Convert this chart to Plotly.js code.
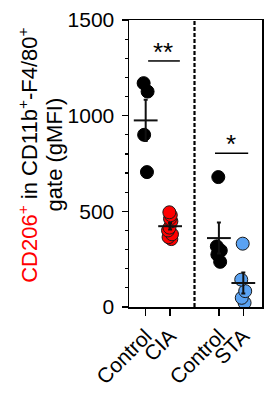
<!DOCTYPE html>
<html>
<head>
<meta charset="utf-8">
<script src="https://cdn.plot.ly/plotly-3.0.1.min.js"></script>
<style>html,body{margin:0;padding:0;background:#fff;}#chart{width:270px;height:394px;}</style>
</head>
<body>
<div id="chart"></div>
<script>
// Categories (x positions 0,1 | 3,4 ; dashed divider at 2)
const categories = ["Control", "CIA", "Control", "STA"];
const categoryPos = [0, 1, 3, 4];

// Series values (gMFI)
const ciaControl = [1170, 1126, 900, 705];
const cia = [495, 480, 462, 448, 415, 400, 380, 365, 355];
const staControl = [679, 317, 295, 274, 236];
const sta = [331, 143, 83, 48, 22];

const yTickVals = [0, 500, 1000, 1500];
const yTickText = ["0", "500", "1000", "1500"];

const groups = [ciaControl, cia, staControl, sta];
const fills = ["#000000", "#ff0000", "#000000", "#5aa2f2"];
const outlines = ["#000000", "#1a1a1a", "#000000", "#1a1a1a"];

function mean(a){ return a.reduce((s,v)=>s+v,0)/a.length; }
function sem(a){ const m=mean(a); const v=a.reduce((s,x)=>s+(x-m)*(x-m),0)/(a.length-1); return Math.sqrt(v/a.length); }

const FONT = "Arial, 'Liberation Sans', Helvetica, sans-serif";
const traces = [];
groups.forEach((g, i) => {
  traces.push({
    type: "box",
    y: g,
    x: g.map(() => categoryPos[i]),
    boxpoints: "all",
    jitter: 0.4,
    pointpos: 0,
    width: 0.5,
    line: {width: 0, color: "rgba(0,0,0,0)"},
    fillcolor: "rgba(0,0,0,0)",
    whiskerwidth: 0,
    marker: {size: 13, color: fills[i], line: {color: outlines[i], width: 1}},
    hoverinfo: "y",
    showlegend: false
  });
});
// mean ± SEM
traces.push({
  type: "scatter",
  mode: "markers",
  x: categoryPos,
  y: groups.map(mean),
  marker: {symbol: "line-ew", size: 17, line: {color: "#111", width: 2}},
  error_y: {type: "data", array: groups.map(sem), visible: true, color: "#111", thickness: 2, width: 2},
  cliponaxis: false,
  showlegend: false,
  hoverinfo: "y"
});

const layout = {
  width: 270, height: 394,
  margin: {l: 129, r: 8, t: 20, b: 86.5},
  paper_bgcolor: "#fff", plot_bgcolor: "#fff",
  font: {family: FONT, color: "#000"},
  showlegend: false,
  xaxis: {
    type: "linear",
    range: [-0.684, 4.766],
    tickvals: categoryPos,
    ticktext: categories,
    tickangle: -45,
    ticks: "outside", ticklen: 7, tickwidth: 1.5, tickcolor: "#000",
    tickfont: {size: 21, family: FONT, color: "#000"},
    showgrid: false, zeroline: false,
    showline: true, linecolor: "#000", linewidth: 1.5, mirror: true
  },
  yaxis: {
    range: [0, 1500],
    tickvals: yTickVals,
    ticktext: yTickText,
    ticks: "outside", ticklen: 6, tickwidth: 1.5, tickcolor: "#000",
    minor: {dtick: 100, ticks: "outside", ticklen: 3, tickwidth: 1.2, tickcolor: "#000", showgrid: false},
    tickfont: {size: 21, family: FONT, color: "#000"},
    ticklabelstandoff: 3,
    showgrid: false, zeroline: false,
    showline: true, linecolor: "#000", linewidth: 1.5, mirror: true
  },
  shapes: [
    {type: "line", xref: "x", yref: "paper", x0: 2, x1: 2, y0: 0, y1: 1,
     line: {color: "#000", width: 2.2, dash: "4px,2px"}},
    {type: "line", xref: "x", yref: "y", x0: 0.1, x1: 1.4, y0: 1286, y1: 1286,
     line: {color: "#000", width: 1.5}},
    {type: "line", xref: "x", yref: "y", x0: 2.84, x1: 4.2, y0: 804, y1: 804,
     line: {color: "#000", width: 1.5}}
  ],
  annotations: [
    {text: "**", xref: "x", yref: "y", x: 0.72, y: 1286, yanchor: "bottom", xanchor: "center",
     showarrow: false, font: {size: 26, family: FONT}, yshift: -8},
    {text: "*", xref: "x", yref: "y", x: 3.5, y: 804, yanchor: "bottom", xanchor: "center",
     showarrow: false, font: {size: 26, family: FONT}, yshift: -8},
    {text: "<span style='color:#ff0000'>CD206<sup>+</sup></span> in CD11b<sup>+</sup>-F4/80<sup>+</sup>",
     xref: "paper", yref: "paper", x: -0.76, y: 0.53, xanchor: "center", yanchor: "middle",
     textangle: -90, showarrow: false, font: {size: 22, family: FONT, color: "#000"}},
    {text: "gate (gMFI)",
     xref: "paper", yref: "paper", x: -0.56, y: 0.53, xanchor: "center", yanchor: "middle",
     textangle: -90, showarrow: false, font: {size: 22, family: FONT, color: "#000"}}
  ]
};

Plotly.newPlot("chart", traces, layout, {displayModeBar: false, staticPlot: true});
</script>
</body>
</html>
